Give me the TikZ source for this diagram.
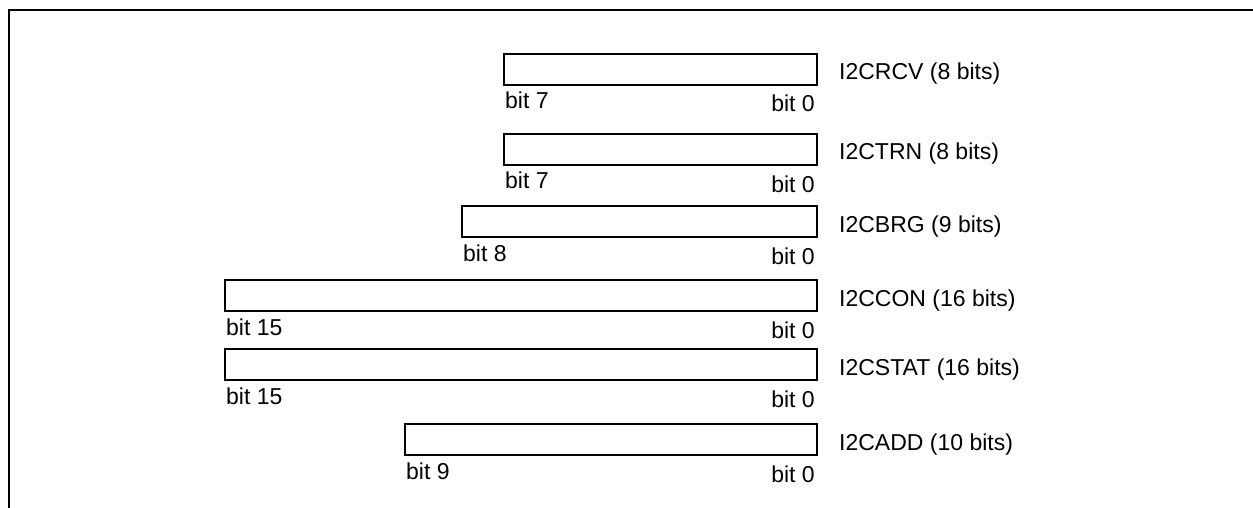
\documentclass[tikz,border=0pt]{standalone}
\usepackage{fontspec}
\setmainfont{Liberation Sans}
\usetikzlibrary{arrows.meta,positioning}

\begin{document}
\begin{tikzpicture}[x=1pt,y=-1pt,>=Stealth, every node/.style={font=\fontsize{23}{27}\selectfont,inner sep=0pt},
  regbox/.style={draw,line width=2pt,minimum height=31pt,anchor=north west},
  hibit/.style={anchor=base west},
  lobit/.style={anchor=base east},
  regname/.style={anchor=base west}]
\useasboundingbox (0,0) rectangle (1253,508);
\draw[line width=2.5pt] (9,508) -- (9,10) -- (1253,10);
% I2CRCV
\node[regbox,minimum width=313pt] (rcv) at (503,53) {};
\node[hibit] (rcvhi) at ([xshift=2pt,yshift=-23pt]rcv.south west) {bit 7};
\node[lobit] (rcvlo) at ([xshift=-3pt,yshift=-26pt]rcv.south east) {bit 0};
\node[regname] (rcvname) at ([xshift=21pt,yshift=6pt]rcv.south east) {I2CRCV (8 bits)};
% I2CTRN
\node[regbox,minimum width=313pt] (trn) at (503,133) {};
\node[hibit] (trnhi) at ([xshift=2pt,yshift=-23pt]trn.south west) {bit 7};
\node[lobit] (trnlo) at ([xshift=-3pt,yshift=-26pt]trn.south east) {bit 0};
\node[regname] (trnname) at ([xshift=21pt,yshift=6pt]trn.south east) {I2CTRN (8 bits)};
% I2CBRG
\node[regbox,minimum width=355pt] (brg) at (461,205) {};
\node[hibit] (brghi) at ([xshift=2pt,yshift=-23pt]brg.south west) {bit 8};
\node[lobit] (brglo) at ([xshift=-3pt,yshift=-26pt]brg.south east) {bit 0};
\node[regname] (brgname) at ([xshift=21pt,yshift=6pt]brg.south east) {I2CBRG (9 bits)};
% I2CCON
\node[regbox,minimum width=592pt] (con) at (224,279) {};
\node[hibit] (conhi) at ([xshift=2pt,yshift=-23pt]con.south west) {bit 15};
\node[lobit] (conlo) at ([xshift=-3pt,yshift=-26pt]con.south east) {bit 0};
\node[regname] (conname) at ([xshift=21pt,yshift=6pt]con.south east) {I2CCON (16 bits)};
% I2CSTAT
\node[regbox,minimum width=592pt] (stat) at (224,348) {};
\node[hibit] (stathi) at ([xshift=2pt,yshift=-23pt]stat.south west) {bit 15};
\node[lobit] (statlo) at ([xshift=-3pt,yshift=-26pt]stat.south east) {bit 0};
\node[regname] (statname) at ([xshift=21pt,yshift=6pt]stat.south east) {I2CSTAT (16 bits)};
% I2CADD
\node[regbox,minimum width=412pt] (add) at (404,423) {};
\node[hibit] (addhi) at ([xshift=2pt,yshift=-23pt]add.south west) {bit 9};
\node[lobit] (addlo) at ([xshift=-3pt,yshift=-26pt]add.south east) {bit 0};
\node[regname] (addname) at ([xshift=21pt,yshift=6pt]add.south east) {I2CADD (10 bits)};
\end{tikzpicture}
\end{document}
